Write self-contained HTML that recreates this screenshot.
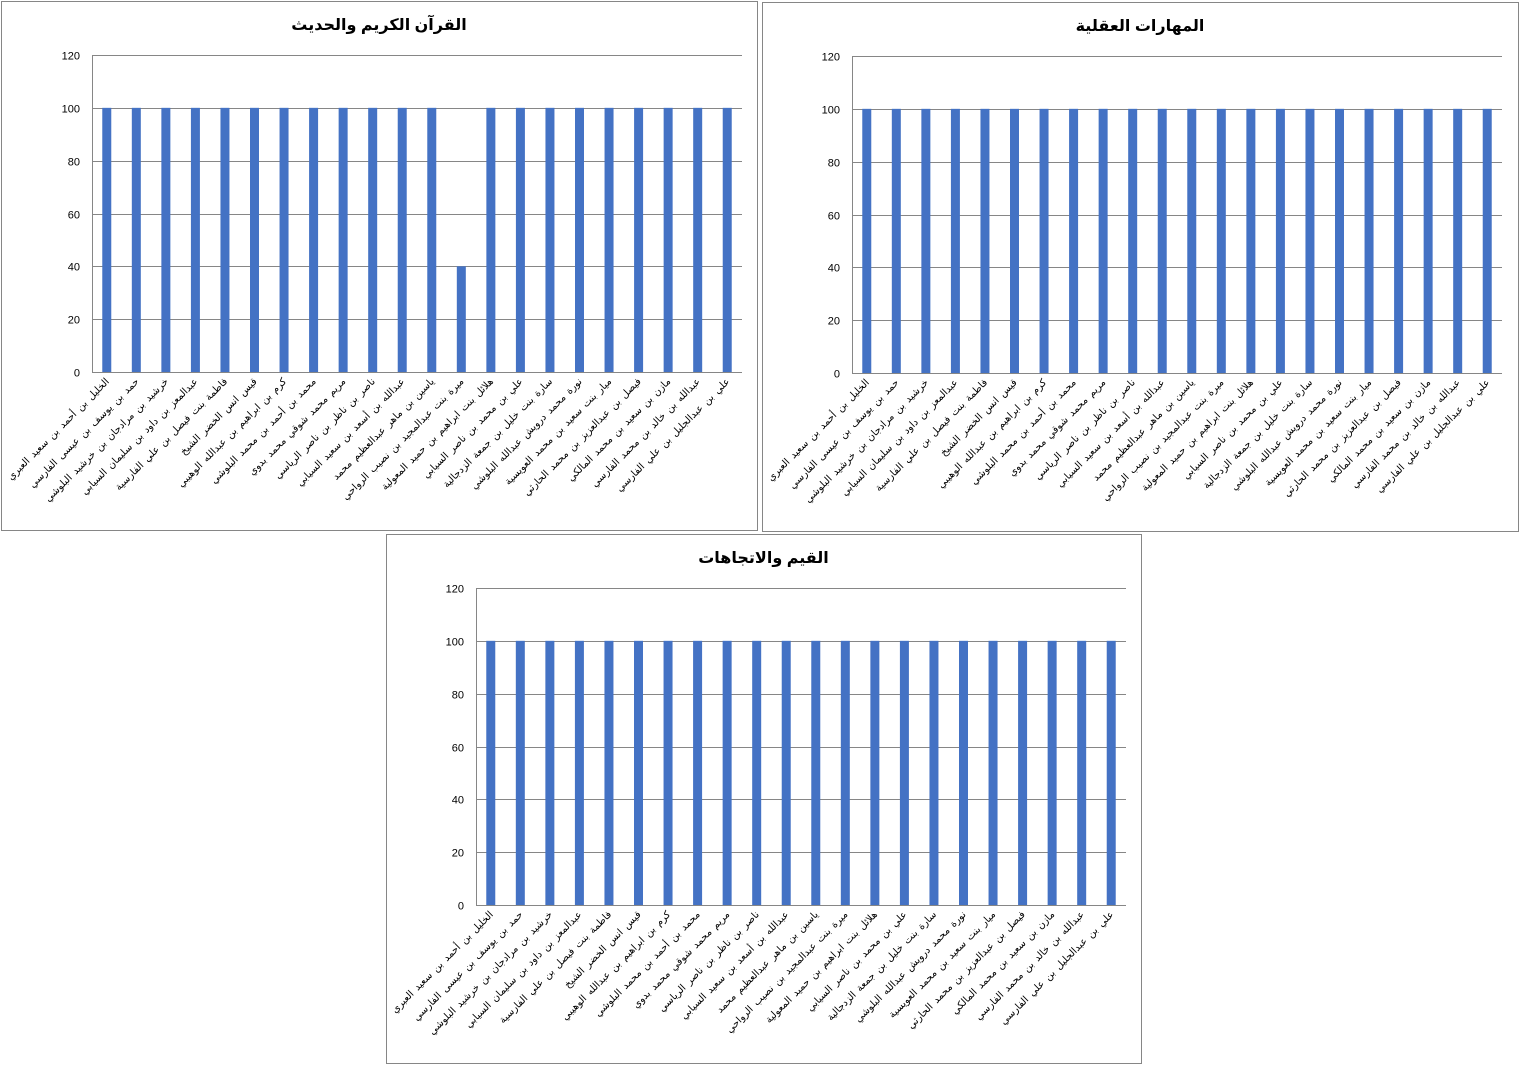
<!DOCTYPE html>
<html><head><meta charset="utf-8">
<style>
body{margin:0;background:#fff;width:1520px;height:1066px;overflow:hidden;font-family:"Liberation Sans","DejaVu Sans",sans-serif;}
svg{position:absolute;left:0;top:0;}
</style></head>
<body>
<svg id="s" width="1520" height="1066"></svg>
<script>
const categories = [
"الخليل بن أحمد بن سعيد العبري",
"حمد بن يوسف بن عيسى الفارسي",
"خرشيد بن مرادجان بن خرشيد البلوشي",
"عبدالمعز بن داود بن سليمان السيابي",
"فاطمة بنت فيصل بن علي الفارسية",
"قيس انس الخضر الشيخ",
"كرم بن ابراهيم بن عبدالله الوهيبي",
"محمد بن أحمد بن محمد البلوشي",
"مريم محمد شوقي محمد بدوي",
"ناصر بن ناظر بن ناصر الرياسي",
"عبدالله بن أسعد بن سعيد السيابي",
"ياسين بن ماهر عبدالعظيم محمد",
"ميرة بنت عبدالمجيد بن نصيب الرواحي",
"هلائل بنت ابراهيم بن حميد المعولية",
"علي بن محمد بن ناصر السيابي",
"سارة بنت خليل بن جمعة الزدجالية",
"نورة محمد درويش عبدالله البلوشي",
"ميار بنت سعيد بن محمد العويسية",
"فيصل بن عبدالعزيز بن محمد الحارثي",
"مازن بن سعيد بن محمد المالكي",
"عبدالله بن خالد بن محمد الفارسي",
"علي بن عبدالجليل بن علي الفارسي"];
const quranValues = [100,100,100,100,100,100,100,100,100,100,100,100,40,100,100,100,100,100,100,100,100,100];
const skillsValues = [100,100,100,100,100,100,100,100,100,100,100,100,100,100,100,100,100,100,100,100,100,100];
const valuesValues = [100,100,100,100,100,100,100,100,100,100,100,100,100,100,100,100,100,100,100,100,100,100];
const yTicks = [0,20,40,60,80,100,120];

const svg=document.getElementById('s');
const NS='http://www.w3.org/2000/svg';
function mk(tag,attrs,parent){const e=document.createElementNS(NS,tag);for(const k in attrs)e.setAttribute(k,attrs[k]);(parent||svg).appendChild(e);return e;}

function chart(box,plot,title,vals,key){
  const g=mk('g',{});
  
  
  const r=mk('rect',{x:box.x+0.5,y:box.y+0.5,width:box.w,height:box.h,fill:'#fff',stroke:'#868686','stroke-width':1},g);
  
  
  const t=mk('text',{x:box.x+box.w/2,y:box.y+29,'text-anchor':'middle','font-size':16,'font-weight':'bold',fill:'#000','font-family':'"Liberation Sans","DejaVu Sans",sans-serif'},g);
  t.textContent=title;
  
  
  const ymax=120;
  const ys=v=>plot.y+plot.h-(v/ymax)*plot.h;
  const step=plot.w/vals.length;
  const xs=i=>plot.x+step*(i+0.5);
  yTicks.forEach(v=>{
    const y=Math.round(ys(v))+0.5;
    const l=mk('line',{x1:plot.x,x2:plot.x+plot.w,y1:y,y2:y,stroke:'#868686','stroke-width':1},g);
    
    
    const tl=mk('text',{x:plot.x-12,y:y+4,'text-anchor':'end','font-size':11,fill:'#000'},g);
    tl.textContent=v;
    
    
  });
  const ax=mk('line',{x1:plot.x+0.5,x2:plot.x+0.5,y1:plot.y,y2:plot.y+plot.h,stroke:'#868686','stroke-width':1},g);
  
  
  vals.forEach((v,i)=>{
    const b=mk('rect',{x:xs(i)-4.5,y:ys(v),width:9,height:ys(0)-ys(v),fill:'#4472C4'},g);
    
    
    const cx=xs(i)+3, cy=plot.y+plot.h+10;
    const lt=mk('text',{x:cx,y:cy,'text-anchor':'end','font-size':10,'word-spacing':2,fill:'#000',transform:`rotate(-45 ${cx} ${cy})`,'font-family':'"Liberation Sans","DejaVu Sans",sans-serif'},g);
    lt.textContent=categories[i];
    
    
  });
}
chart({x:1,y:1,w:756,h:529},{x:92,y:55,w:650,h:317},'القرآن الكريم والحديث',quranValues,'quran');
chart({x:762,y:2,w:756,h:529},{x:852,y:56,w:650,h:317},'المهارات العقلية',skillsValues,'skills');
chart({x:386,y:534,w:755,h:529},{x:476,y:588,w:650,h:317},'القيم والاتجاهات',valuesValues,'values');
</script>
</body></html>
